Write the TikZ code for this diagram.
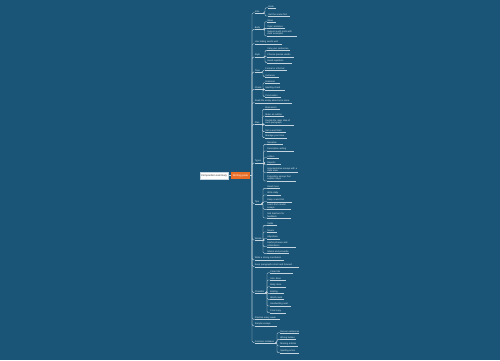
\documentclass[tikz,border=0pt]{standalone}
\usepackage{fontspec}
\setmainfont{Liberation Sans}
\definecolor{bg}{RGB}{26,85,119}
\definecolor{ln}{RGB}{196,212,222}
\definecolor{tx}{RGB}{236,241,244}
\definecolor{hubc}{RGB}{232,110,40}
\hyphenpenalty=10000
\exhyphenpenalty=10000
\tolerance=10000
\begin{document}
\begin{tikzpicture}[x=1pt,y=-1pt,
  conn/.style={draw=ln, line width=0.4pt},
  lbase/.style={anchor=south west, inner xsep=0.2pt, inner ysep=0.35pt,
    font=\fontsize{2.3}{2.5}\selectfont, text=tx, align=left,
    append after command={(\tikzlastnode.south west) edge[conn] (\tikzlastnode.south east)}},
  lb/.style={lbase, text width=#1, execute at begin node={\hbox\bgroup}, execute at end node={\egroup}},
  lbb/.style={lbase, text width=#1},
  rootbox/.style={draw=ln, line width=0.3pt, fill=white, minimum width=28pt, minimum height=7pt,
    inner sep=0.3pt, font=\fontsize{2.6}{3}\selectfont, text=black!80},
  hubbox/.style={fill=hubc, minimum width=19pt, minimum height=7pt, inner sep=0.3pt,
    font=\fontsize{2.6}{3}\selectfont, text=white},
  br/.style={conn, rounded corners=1.2pt},
  sp/.style={conn, rounded corners=1.5pt}]
\fill[bg] (0,0) rectangle (500,360);
% root
\node[rootbox] (root) at (214,175.5) {Composition summary};
\node[hubbox] (hub) at (240.5,175.5) {Writing guide};
\coordinate (J) at (252,175.5);
\draw[conn] (root.east) -- (hub.west);
\draw[conn] (hub.east) -- (J);
% ---------- level 1 ----------
\node[lb=9pt] (b1) at (254.5,12.7) {Intro};
\node[lb=9pt] (b2) at (254.5,29.3) {Body};
\node[lb=27pt] (b3) at (254.5,43.7) {Use linking words well};
\node[lb=9pt] (b4) at (254.5,57) {Style};
\node[lb=7pt] (b5) at (254.5,72) {Tone};
\node[lb=8.5pt] (b6) at (254.5,89.3) {Check};
\node[lb=37pt] (b7) at (254.5,102.7) {Read the essay aloud once more};
\node[lb=8pt] (b8) at (254.5,124.3) {Plan};
\node[lb=8.5pt] (b9) at (254.5,163) {Types};
\node[lb=7pt] (b10) at (254.5,203.7) {Tips};
\node[lb=8.5pt] (b11) at (254.5,240) {Words};
\node[lb=29pt] (b12) at (254.5,260) {Write a strong conclusion};
\node[lb=44pt] (b13) at (254.5,266.7) {Keep paragraphs short and focused};
\node[lb=11.5pt] (b14) at (254.5,292.7) {Checklist};
\node[lb=25pt] (b15) at (254.5,319.3) {Practise every week};
\node[lb=22pt] (b16) at (254.5,326) {Sample essays};
\node[lb=21pt] (b17) at (254.5,342.7) {Common mistakes};
\foreach \b in {b1,b2,b3,b4,b5,b6,b7,b8,b9,b10,b11,b12,b13,b14,b15,b16,b17}
  \draw[sp] (J) |- (\b.south west);
% ---------- branch 1 ----------
\coordinate (k1) at (265,12.7);
\node[lb=7pt] (c1a) at (268,7.7) {Hook};
\node[lb=21pt] (c1b) at (268,16) {Set the scene first};
\draw[br] (b1.south east) -- (k1) |- (c1a.south west);
\draw[br] (b1.south east) -- (k1) |- (c1b.south west);
% ---------- branch 2 ----------
\coordinate (k2) at (264.5,29.3);
\node[lb=8pt] (c2a) at (267,21.7) {Ideas};
\node[lb=17pt] (c2b) at (267,28.3) {Topic sentence};
\node[lbb=29pt] (c2c) at (267,36) {Support each point with clear examples};
\foreach \c in {c2a,c2b,c2c} \draw[br] (b2.south east) -- (k2) |- (\c.south west);
% ---------- branch 4 ----------
\coordinate (k4) at (265,57);
\node[lb=22pt] (c4a) at (267,50.3) {Vary your sentences};
\node[lb=26pt] (c4b) at (267,57) {Choose precise words};
\node[lb=24pt] (c4c) at (267,62.7) {Avoid repetition};
\foreach \c in {c4a,c4b,c4c} \draw[br] (b4.south east) -- (k4) |- (\c.south west);
% ---------- branch 5 ----------
\coordinate (k5) at (263,72);
\node[lb=21pt] (c5a) at (265,70) {Formal or informal};
\node[lb=13pt] (c5b) at (265,76.7) {Audience};
\foreach \c in {c5a,c5b} \draw[br] (b5.south east) -- (k5) |- (\c.south west);
% ---------- branch 6 ----------
\coordinate (k6) at (263,89.3);
\node[lb=14pt] (c6a) at (265,82.7) {Grammar};
\node[lb=19pt] (c6b) at (265,90) {Spelling check};
\node[lb=15pt] (c6c) at (265,96.7) {Punctuation};
\foreach \c in {c6a,c6b,c6c} \draw[br] (b6.south east) -- (k6) |- (\c.south west);
% ---------- branch 8 ----------
\coordinate (k8) at (262.5,124.3);
\node[lb=14pt] (c8a) at (265,109.3) {Brainstorm};
\node[lb=18pt] (c8b) at (265,116) {Make an outline};
\node[lbb=28pt] (c8c) at (265,124.8) {Decide the main idea of each paragraph};
\node[lb=20pt] (c8d) at (265,131.7) {Set a word limit};
\node[lb=21pt] (c8e) at (265,137.7) {Manage your time};
\foreach \c in {c8a,c8b,c8c,c8d,c8e} \draw[br] (b8.south east) -- (k8) |- (\c.south west);
% ---------- branch 9 ----------
\coordinate (k9) at (263.5,163);
\node[lb=15pt] (c9a) at (267,144.3) {Narrative};
\node[lb=26pt] (c9b) at (267,151) {Descriptive writing};
\node[lb=11pt] (c9c) at (267,157.7) {Letters};
\node[lb=13pt] (c9d) at (267,164.5) {Reports};
\node[lbb=30pt] (c9e) at (267,172.5) {Argumentative essays with a clear view};
\node[lbb=28pt] (c9f) at (267,181) {Expository essays that explain steps};
\foreach \c in {c9a,c9b,c9c,c9d,c9e,c9f} \draw[br] (b9.south east) -- (k9) |- (\c.south west);
% ---------- branch 10 ----------
\coordinate (k10) at (263,203.7);
\node[lb=12pt] (c10a) at (267,188.3) {Read more};
\node[lb=13pt] (c10b) at (267,195) {Write daily};
\node[lb=24pt] (c10c) at (267,201.7) {Keep a word list};
\node[lbb=23pt] (c10d) at (267,209.3) {Learn from model essays};
\node[lbb=23pt] (c10e) at (267,218) {Ask teachers for feedback};
\foreach \c in {c10a,c10b,c10c,c10d,c10e} \draw[br] (b10.south east) -- (k10) |- (\c.south west);
% ---------- branch 11 ----------
\coordinate (k11) at (263,240);
\node[lb=9pt] (c11a) at (267,225.3) {Verbs};
\node[lb=9pt] (c11b) at (267,232) {Nouns};
\node[lb=12pt] (c11c) at (267,238.7) {Adjectives};
\node[lbb=28pt] (c11d) at (267,246.7) {Useful phrases and collocations};
\node[lb=21pt] (c11e) at (267,253.3) {Idioms and proverbs};
\foreach \c in {c11a,c11b,c11c,c11d,c11e} \draw[br] (b11.south east) -- (k11) |- (\c.south west);
% ---------- branch 14 ----------
\coordinate (k14) at (267,292.7);
\node[lb=22pt] (c14a) at (270,272.7) {Clear title};
\node[lb=15pt] (c14b) at (270,280) {Intro done};
\node[lb=15pt] (c14c) at (270,286.7) {Body done};
\node[lb=13pt] (c14d) at (270,293.3) {Ending};
\node[lb=13pt] (c14e) at (270,299.3) {Word count};
\node[lb=20pt] (c14f) at (270,306) {Handwriting neat};
\node[lb=15pt] (c14g) at (270,312.7) {Final copy};
\foreach \c in {c14a,c14b,c14c,c14d,c14e,c14f,c14g} \draw[br] (b14.south east) -- (k14) |- (\c.south west);
% ---------- branch 17 ----------
\coordinate (k17) at (277,342.7);
\node[lb=18pt] (c17a) at (280,332.7) {Run-on sentences};
\node[lb=15pt] (c17b) at (280,339.3) {Wrong tenses};
\node[lb=17pt] (c17c) at (280,346) {Missing articles};
\node[lb=18pt] (c17d) at (280,352.7) {Spelling errors};
\foreach \c in {c17a,c17b,c17c,c17d} \draw[br] (b17.south east) -- (k17) |- (\c.south west);
\end{tikzpicture}
\end{document}
